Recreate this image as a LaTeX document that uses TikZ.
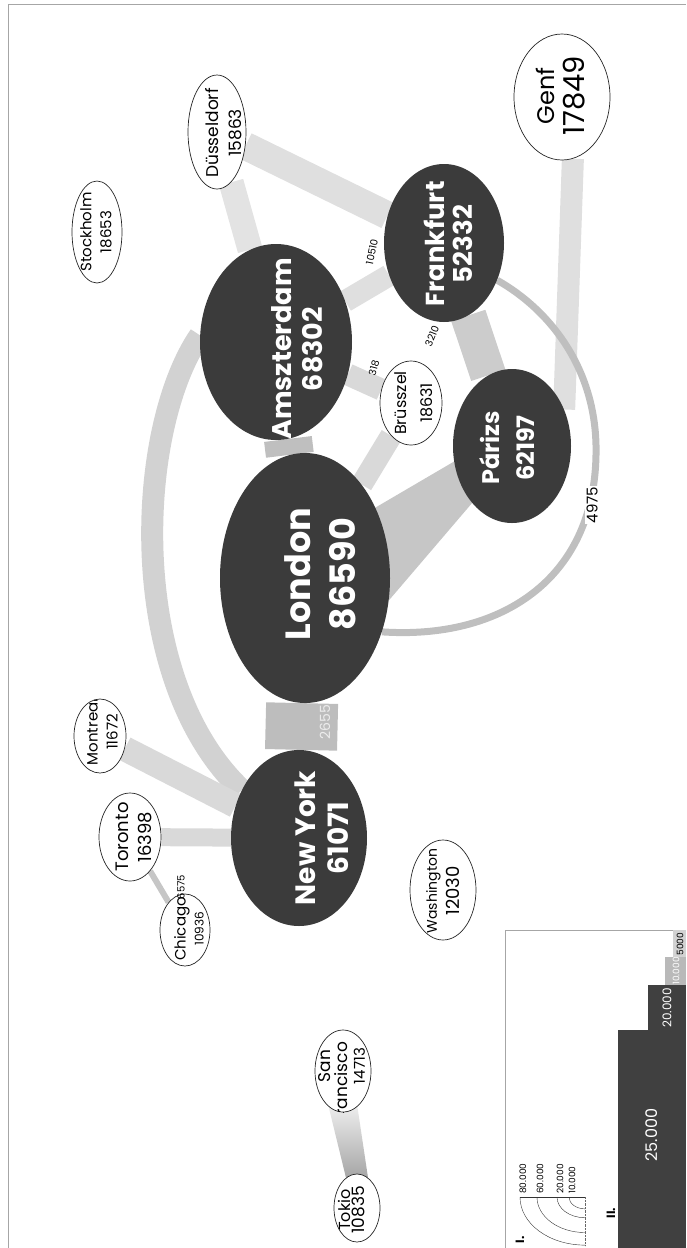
\documentclass[tikz,border=0pt]{standalone}
\usepackage{fontspec}
\setmainfont{Poppins}
\usetikzlibrary{positioning,shapes.geometric}
\pgfdeclarelayer{bands}
\pgfsetlayers{bands,main}
\newcommand{\fs}[2]{\fontsize{#1}{#2}\selectfont}

\begin{document}
\begin{tikzpicture}[x=1pt, y=-1pt,
    hub/.style={ellipse, fill=black!77, inner sep=0pt},
    town/.style={ellipse, draw=black!85, line width=0.7pt, fill=white, inner sep=0pt},
    hubtext/.style={rotate=90, align=center, inner sep=0pt, text=white, font=\bfseries#1},
    towntext/.style={rotate=90, align=center, inner sep=0pt, font=#1},
    band/.style={line width=#1, line cap=butt},
    flow/.style={inner sep=1pt, font=\fs{10}{11}}]
\useasboundingbox (0,0) rectangle (686,1248);
\draw[gray!70, line width=1pt] (8,1248) -- (8,4) -- (686,4);

% hubs
\node[hub, minimum width=170, minimum height=250] (lon) at (305,578) {};
\node[hubtext=\fs{35}{45}] (lon-t) at (320,574) {London\\86590};
\node[hub, minimum width=152, minimum height=196] (ams) at (276,342) {};
\node[hubtext=\fs{27}{31}] (ams-t) at (297,349) {Amszterdam\\68302};
\node[hub, minimum width=120, minimum height=158] (fra) at (444,243) {};
\node[hubtext=\fs{26}{28}] (fra-t) at (448,244) {Frankfurt\\52332};
\node[hub, minimum width=118, minimum height=154] (par) at (512,446) {};
\node[hubtext=\fs{24}{35}] (par-t) at (507,448) {Párizs\\62197};
\node[hub, minimum width=136, minimum height=176] (ny) at (299,838) {};
\node[hubtext=\fs{28}{33}] (ny-t) at (322,838) {New York\\61071};

% smaller cities
\node[town, minimum width=50, minimum height=102] (sto) at (97,232) {};
\node[towntext=\fs{15}{20}] (sto-t) at (96,232) {Stockholm\\18653};
\node[town, minimum width=58, minimum height=114] (due) at (217,132) {};
\node[towntext=\fs{17}{23}] (due-t) at (224,133) {Düsseldorf\\15863};
\node[town, minimum width=96, minimum height=126] (gen) at (562,97) {};
\node[towntext=\fs{24}{30}] (gen-t) at (561,96) {Genf\\{\fs{29}{30}17849}};
\node[town, minimum width=62, minimum height=84] (bru) at (411,403) {};
\node[towntext=\fs{16}{26}] (bru-t) at (414,403) {Brüsszel\\18631};
\node[town, minimum width=52, minimum height=74] (mon) at (100,736) {};
\begin{scope}
  \clip (mon.center) ellipse (26pt and 37pt);
  \node[towntext=\fs{15}{20}] (mon-t) at (102,732) {Montreal\\11672};
\end{scope}
\node[town, minimum width=62, minimum height=88] (tor) at (130,837) {};
\node[towntext=\fs{18}{23}] (tor-t) at (134,837) {Toronto\\16398};
\node[town, minimum width=50, minimum height=72] (chi) at (185,930) {};
\node[towntext=\fs{15}{18}] (chi-t) at (189,929) {Chicago\\{\fs{12}{14}10936}};
\node[town, minimum width=66, minimum height=100] (was) at (443,890) {};
\node[towntext=\fs{14}{23}] (was-t) at (443,891) {Washington\\{\fs{18}{20}12030}};
\node[town, minimum width=56, minimum height=82] (sfr) at (343,1071) {};
\begin{scope}
  \clip (sfr.center) ellipse (28pt and 41pt);
  \node[towntext=\fs{17}{17}] (sfr-t) at (342,1066) {San\\\hspace*{-34pt}Francisco\\{\fs{15}{17}14713}};
\end{scope}
\node[town, minimum width=46, minimum height=68] (tok) at (357,1208) {};
\node[towntext=\fs{16}{14}] (tok-t) at (352,1210) {Tokio\\{\fs{17}{14}10835}};

\begin{pgfonlayer}{bands}
\draw[band=72, gray!52] (lon) -- (ny);
\draw[band=48, gray!50] (lon) -- (ams);
\fill[gray!45] (lon.45) -- (par.195) -- (par.235) -- (lon.-15) -- cycle;
\draw[band=22, gray!30] (lon) -- (bru);
\draw[band=22, gray!30] (ams) -- (bru);
\draw[band=22, gray!25] (ams) -- (fra);
\draw[band=25, gray!22] (ams) -- (due);
\draw[band=28, gray!25] (due) -- (fra);
\draw[band=36, gray!40] (fra) -- (par);
\draw[band=22, gray!25] (gen.-80) -- (par.35);
\draw[band=22, gray!35] (ams.175) .. controls (135,430) and (125,680) .. (ny.140);
\draw[band=7, gray!50] (fra.-35) .. controls (550,310) and (598,370) .. (596,455)
  .. controls (594,580) and (500,640) .. (lon.-35);
\draw[band=25, gray!30] (ny) -- (mon);
\draw[band=18, gray!30] (ny) -- (tor);
\draw[band=6, gray!45] (tor) -- (chi);
\shade[top color=gray!15, middle color=gray!30, bottom color=gray!70]
  (sfr.-112) -- (sfr.-68) -- (tok.70) -- (tok.110) -- cycle;
\end{pgfonlayer}

\node[flow, rotate=90, text=gray!15, font=\fs{14}{15}] (f-lonny) at (325,722) {2655};
\node[flow, rotate=78] (f-amsfra) at (372,252) {10510};
\node[flow, rotate=75] (f-amsbru) at (374,368) {318};
\node[flow, rotate=68] (f-brufra) at (432,336) {3210};
\node[flow, rotate=90, fill=white, font=\fs{15}{16}] (f-fralon) at (592,505) {4975};
\node[flow, rotate=90] (f-torchi) at (181,887) {6575};

% legend
\draw[gray!70] (505,1248) -- (505,930) -- (686,930);
\fill[gray!35] (673,930) rectangle (686,957);
\fill[gray!55] (665,957) rectangle (686,985);
\fill[black!75] (648,985) rectangle (686,1030);
\fill[black!75] (618,1030) rectangle (686,1248);
\node[rotate=90, inner sep=0pt, font=\fs{9}{10}] (b4) at (680,944) {5000};
\node[rotate=90, inner sep=0pt, text=white, font=\fs{9}{10}] (b3) at (676,971) {10.000};
\node[rotate=90, inner sep=0pt, text=white, font=\fs{12}{13}] (b2) at (667,1008) {20.000};
\node[rotate=90, inner sep=0pt, text=white, font=\fs{16}{17}] (b1) at (652,1135) {25.000};
\node[rotate=90, inner sep=0pt, font=\bfseries\fs{12}{13}] (leg2) at (611,1213) {II.};
\node[rotate=90, inner sep=0pt, font=\bfseries\fs{12}{13}] (leg1) at (520,1240) {I.};
\draw[black!80] (520,1197) -- (585,1197);
\draw[black!60, densely dotted] (585,1197) -- (585,1246);
\foreach \r/\v in {65/80.000, 48/60.000, 28/20.000, 16/10.000} {
  \draw[black!80] ({585-\r},1197) .. controls ({585-\r},{1197+0.41*\r}) and ({585-0.552*\r},{1197+0.74*\r}) .. (585,{1197+0.74*\r});
  \node[rotate=90, anchor=west, inner sep=1pt, font=\fs{9}{10}] (l\r) at ({588-\r},1195) {\v};
}
\end{tikzpicture}
\end{document}
